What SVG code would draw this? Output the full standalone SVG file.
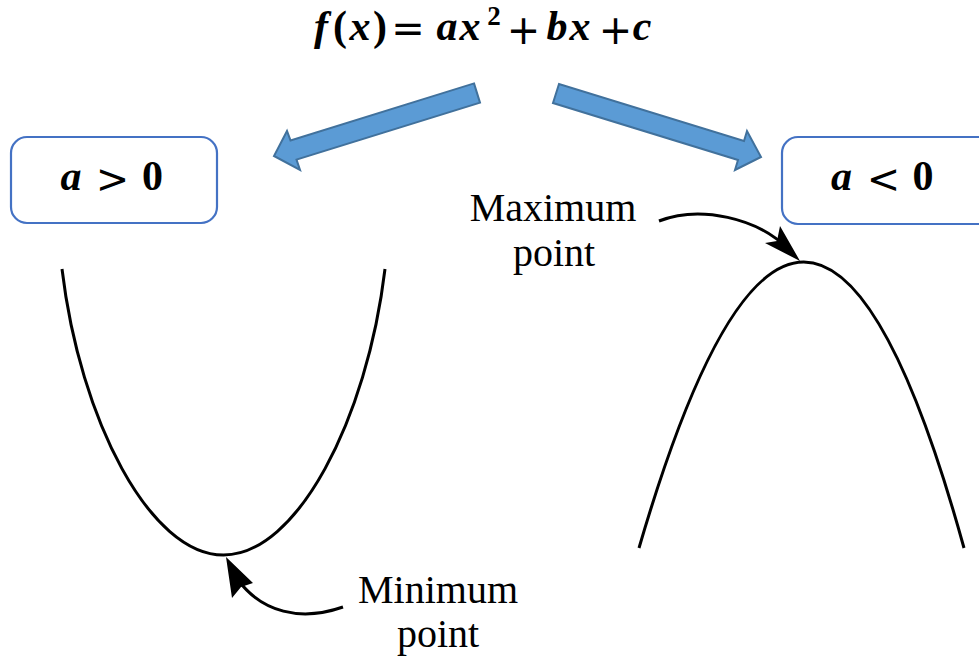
<svg xmlns="http://www.w3.org/2000/svg" width="979" height="657" viewBox="0 0 979 657">
<style>
.bigarrow{fill:#5B9BD5;stroke:#41719C;stroke-width:2;stroke-linejoin:miter}
.box{fill:#fff;stroke:#4472C4;stroke-width:2.2}
.math{font-family:"Liberation Serif",serif;font-weight:bold;font-size:42px;fill:#000;text-anchor:middle}
.mi{font-style:italic}
.op{font-family:"DejaVu Sans",sans-serif;font-weight:normal;font-size:40px}
.lbl{font-family:"Liberation Serif",serif;font-size:40px;fill:#000;text-anchor:middle}
.curve{fill:none;stroke:#000;stroke-width:3}
.head{fill:#000}
</style>
<rect width="979" height="657" fill="#fff"/>
<g id="formula">
<text class="math" y="40"><tspan class="mi" x="321">f</tspan><tspan x="340">(</tspan><tspan class="mi" x="360">x</tspan><tspan x="380">)</tspan><tspan class="op" x="408" y="42">=</tspan><tspan class="mi" x="447" y="40">a</tspan><tspan class="mi" x="470">x</tspan><tspan x="494" y="25" font-size="27">2</tspan><tspan class="op" x="523.5" y="44">+</tspan><tspan class="mi" x="557" y="40">b</tspan><tspan class="mi" x="580">x</tspan><tspan class="op" x="615.5" y="44">+</tspan><tspan class="mi" x="642" y="40">c</tspan></text>
</g>
<g id="connectors">
<polygon class="bigarrow" points="474,83.4 480,102.6 296.5,159.6 300,170 274,156 287,131 290.5,140.4"/>
<polygon class="bigarrow" points="559,84 553,103 738,160 735,170 761,157 747,131 744,141"/>
<path class="curve" d="M659,221 C700,205 758,218 788,249"/>
<polygon class="head" points="800,261 765,243 777,241 780,226"/>
<path class="curve" d="M343,607 C300,622 262,612 238,580"/>
<polygon class="head" points="226,557 253,583 241,587 232,598"/>
</g>
<g id="box-pos">
<rect class="box" x="11" y="137" width="206" height="86" rx="16"/>
<text class="math" y="190"><tspan class="mi" x="71">a</tspan><tspan class="op" x="112.5" y="193" font-size="46">&gt;</tspan><tspan x="152.5" y="190">0</tspan></text>
</g>
<g id="box-neg">
<rect class="box" x="782" y="137" width="215" height="87" rx="16"/>
<text class="math" y="190"><tspan class="mi" x="841.5">a</tspan><tspan class="op" x="883.5" y="193" font-size="46">&lt;</tspan><tspan x="923" y="190">0</tspan></text>
</g>
<g id="parabola-up">
<path class="curve" d="M62,269 C80,420 150,555 223.5,555 C297,555 367,420 385,269"/>
</g>
<g id="parabola-down">
<path class="curve" d="M639,548 Q806,-24 964,548"/>
</g>
<g id="label-max">
<text class="lbl" x="553" y="221">Maximum</text>
<text class="lbl" x="554" y="266">point</text>
</g>
<g id="label-min">
<text class="lbl" x="438" y="603">Minimum</text>
<text class="lbl" x="438" y="647">point</text>
</g>
</svg>
